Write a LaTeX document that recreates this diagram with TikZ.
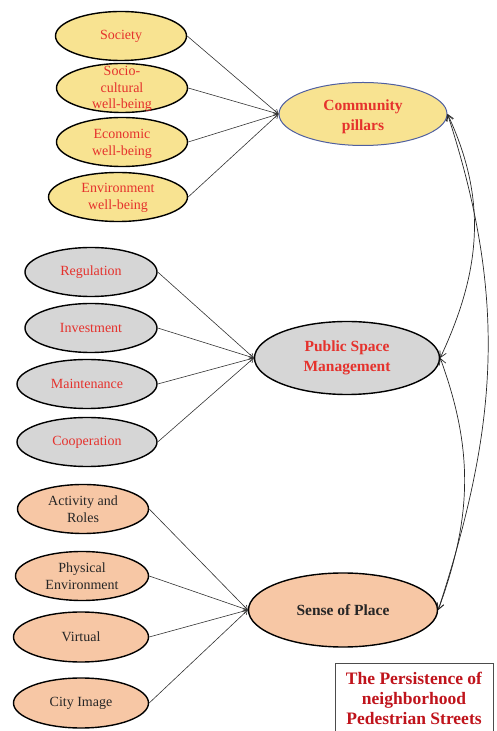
\documentclass[tikz,border=0pt]{standalone}
\usepackage{fontspec}
\setmainfont{Liberation Serif}
\usetikzlibrary{arrows.meta, shapes.geometric, positioning}
\definecolor{cpYellow}{HTML}{F8E391}
\definecolor{cpGrey}{HTML}{D6D6D6}
\definecolor{cpPeach}{HTML}{F7C7A5}
\definecolor{cpBlue}{HTML}{4F5FA0}
\definecolor{cpRed}{HTML}{E5322D}
\definecolor{cpDark}{HTML}{C0141C}
\tikzset{
  item/.style     = {ellipse, draw=black, line width=1.4pt, inner sep=0pt,
                     minimum width=131pt, minimum height=49pt},
  yitem/.style    = {item, fill=cpYellow},
  gitem/.style    = {item, fill=cpGrey},
  pitem/.style    = {item, fill=cpPeach},
  hub/.style      = {ellipse, draw=black, line width=1.4pt, inner sep=0pt},
  itemlbl/.style  = {font=\fontsize{14}{16.7}\selectfont, align=center, inner sep=0pt},
  hublbl/.style   = {font=\fontsize{15.5}{20}\selectfont\bfseries, align=center, inner sep=0pt},
  feed/.style     = {-{Straight Barb[length=4pt, width=5pt]}, line width=0.6pt, black!80},
  link/.style     = {{Straight Barb[length=6pt, width=7pt]}-{Straight Barb[length=6pt, width=7pt]},
                     line width=0.7pt, black!85},
  titlebox/.style = {draw=black!70, line width=1pt, fill=white, align=center, text=cpDark,
                     font=\fontsize{17.5}{20}\selectfont\bfseries,
                     minimum width=158pt, inner xsep=2pt, inner ysep=9pt},
}

\begin{document}
\begin{tikzpicture}[x=1pt, y=1pt]
\useasboundingbox (0,0) rectangle (496,731);
% community pillars and what feeds it
\node[hub, fill=cpYellow, draw=cpBlue, line width=1pt, minimum width=168pt, minimum height=63pt] (cp) at (363,617) {};
\node[hublbl, cpRed] (cp-t) at (363,614) {Community\\pillars};
\node[yitem] (soc) at (121,695) {};
\node[itemlbl, cpRed] (soc-t) at (soc) {Society};
\node[yitem] (scw) at (122,643) {};
\node[itemlbl, cpRed] (scw-t) at (122,642) {Socio-\\cultural\\well-being};
\node[yitem] (ecw) at (122,589) {};
\node[itemlbl, cpRed] (ecw-t) at (122,587) {Economic\\well-being};
\node[yitem, minimum width=139pt] (enw) at (118,534) {};
\node[itemlbl, cpRed] (enw-t) at (118,533) {Environment\\well-being};
\foreach \n in {soc, scw, ecw, enw}
  \draw[feed] (\n.east) -- (cp.west);

% public space management
\node[hub, fill=cpGrey, minimum width=185pt, minimum height=73pt] (psm) at (347,373) {};
\node[hublbl, cpRed] (psm-t) at (psm) {Public Space\\Management};
\node[gitem, minimum width=132pt] (reg) at (91,459) {};
\node[itemlbl, cpRed] (reg-t) at (reg) {Regulation};
\node[gitem, minimum width=132pt] (inv) at (91,403) {};
\node[itemlbl, cpRed] (inv-t) at (inv) {Investment};
\node[gitem, minimum width=140pt] (mnt) at (87,347) {};
\node[itemlbl, cpRed] (mnt-t) at (mnt) {Maintenance};
\node[gitem, minimum width=140pt] (coo) at (87,289) {};
\node[itemlbl, cpRed] (coo-t) at (coo) {Cooperation};
\foreach \n in {reg, inv, mnt, coo}
  \draw[feed] (\n.east) -- (psm.west);

% sense of place
\node[hub, fill=cpPeach, minimum width=189pt, minimum height=74pt] (sop) at (343,121) {};
\node[hublbl, black!85] (sop-t) at (sop) {Sense of Place};
\node[pitem] (act) at (83,222) {};
\node[itemlbl, black!85] (act-t) at (act) {Activity and\\Roles};
\node[pitem, minimum width=133pt] (phy) at (82,155) {};
\node[itemlbl, black!85] (phy-t) at (phy) {Physical\\Environment};
\node[pitem, minimum width=135pt, minimum height=50pt] (vir) at (81,94) {};
\node[itemlbl, black!85] (vir-t) at (vir) {Virtual};
\node[pitem, minimum width=135pt, minimum height=50pt] (cty) at (81,28) {};
\node[itemlbl, black!85] (cty-t) at (cty) {City Image};
\foreach \n in {act, phy, vir, cty}
  \draw[feed] (\n.east) -- (sop.west);

% links between the three hubs
\draw[link] (cp.east) to[out=-65, in=65] (psm.east);
\draw[link] (psm.east) to[out=-70, in=70] (sop.east);
\draw[link] (cp.east) to[out=-72, in=72] (sop.east);

\node[titlebox, anchor=north] (title) at (414,68) {The Persistence of\\neighborhood\\Pedestrian Streets};
\end{tikzpicture}
\end{document}
